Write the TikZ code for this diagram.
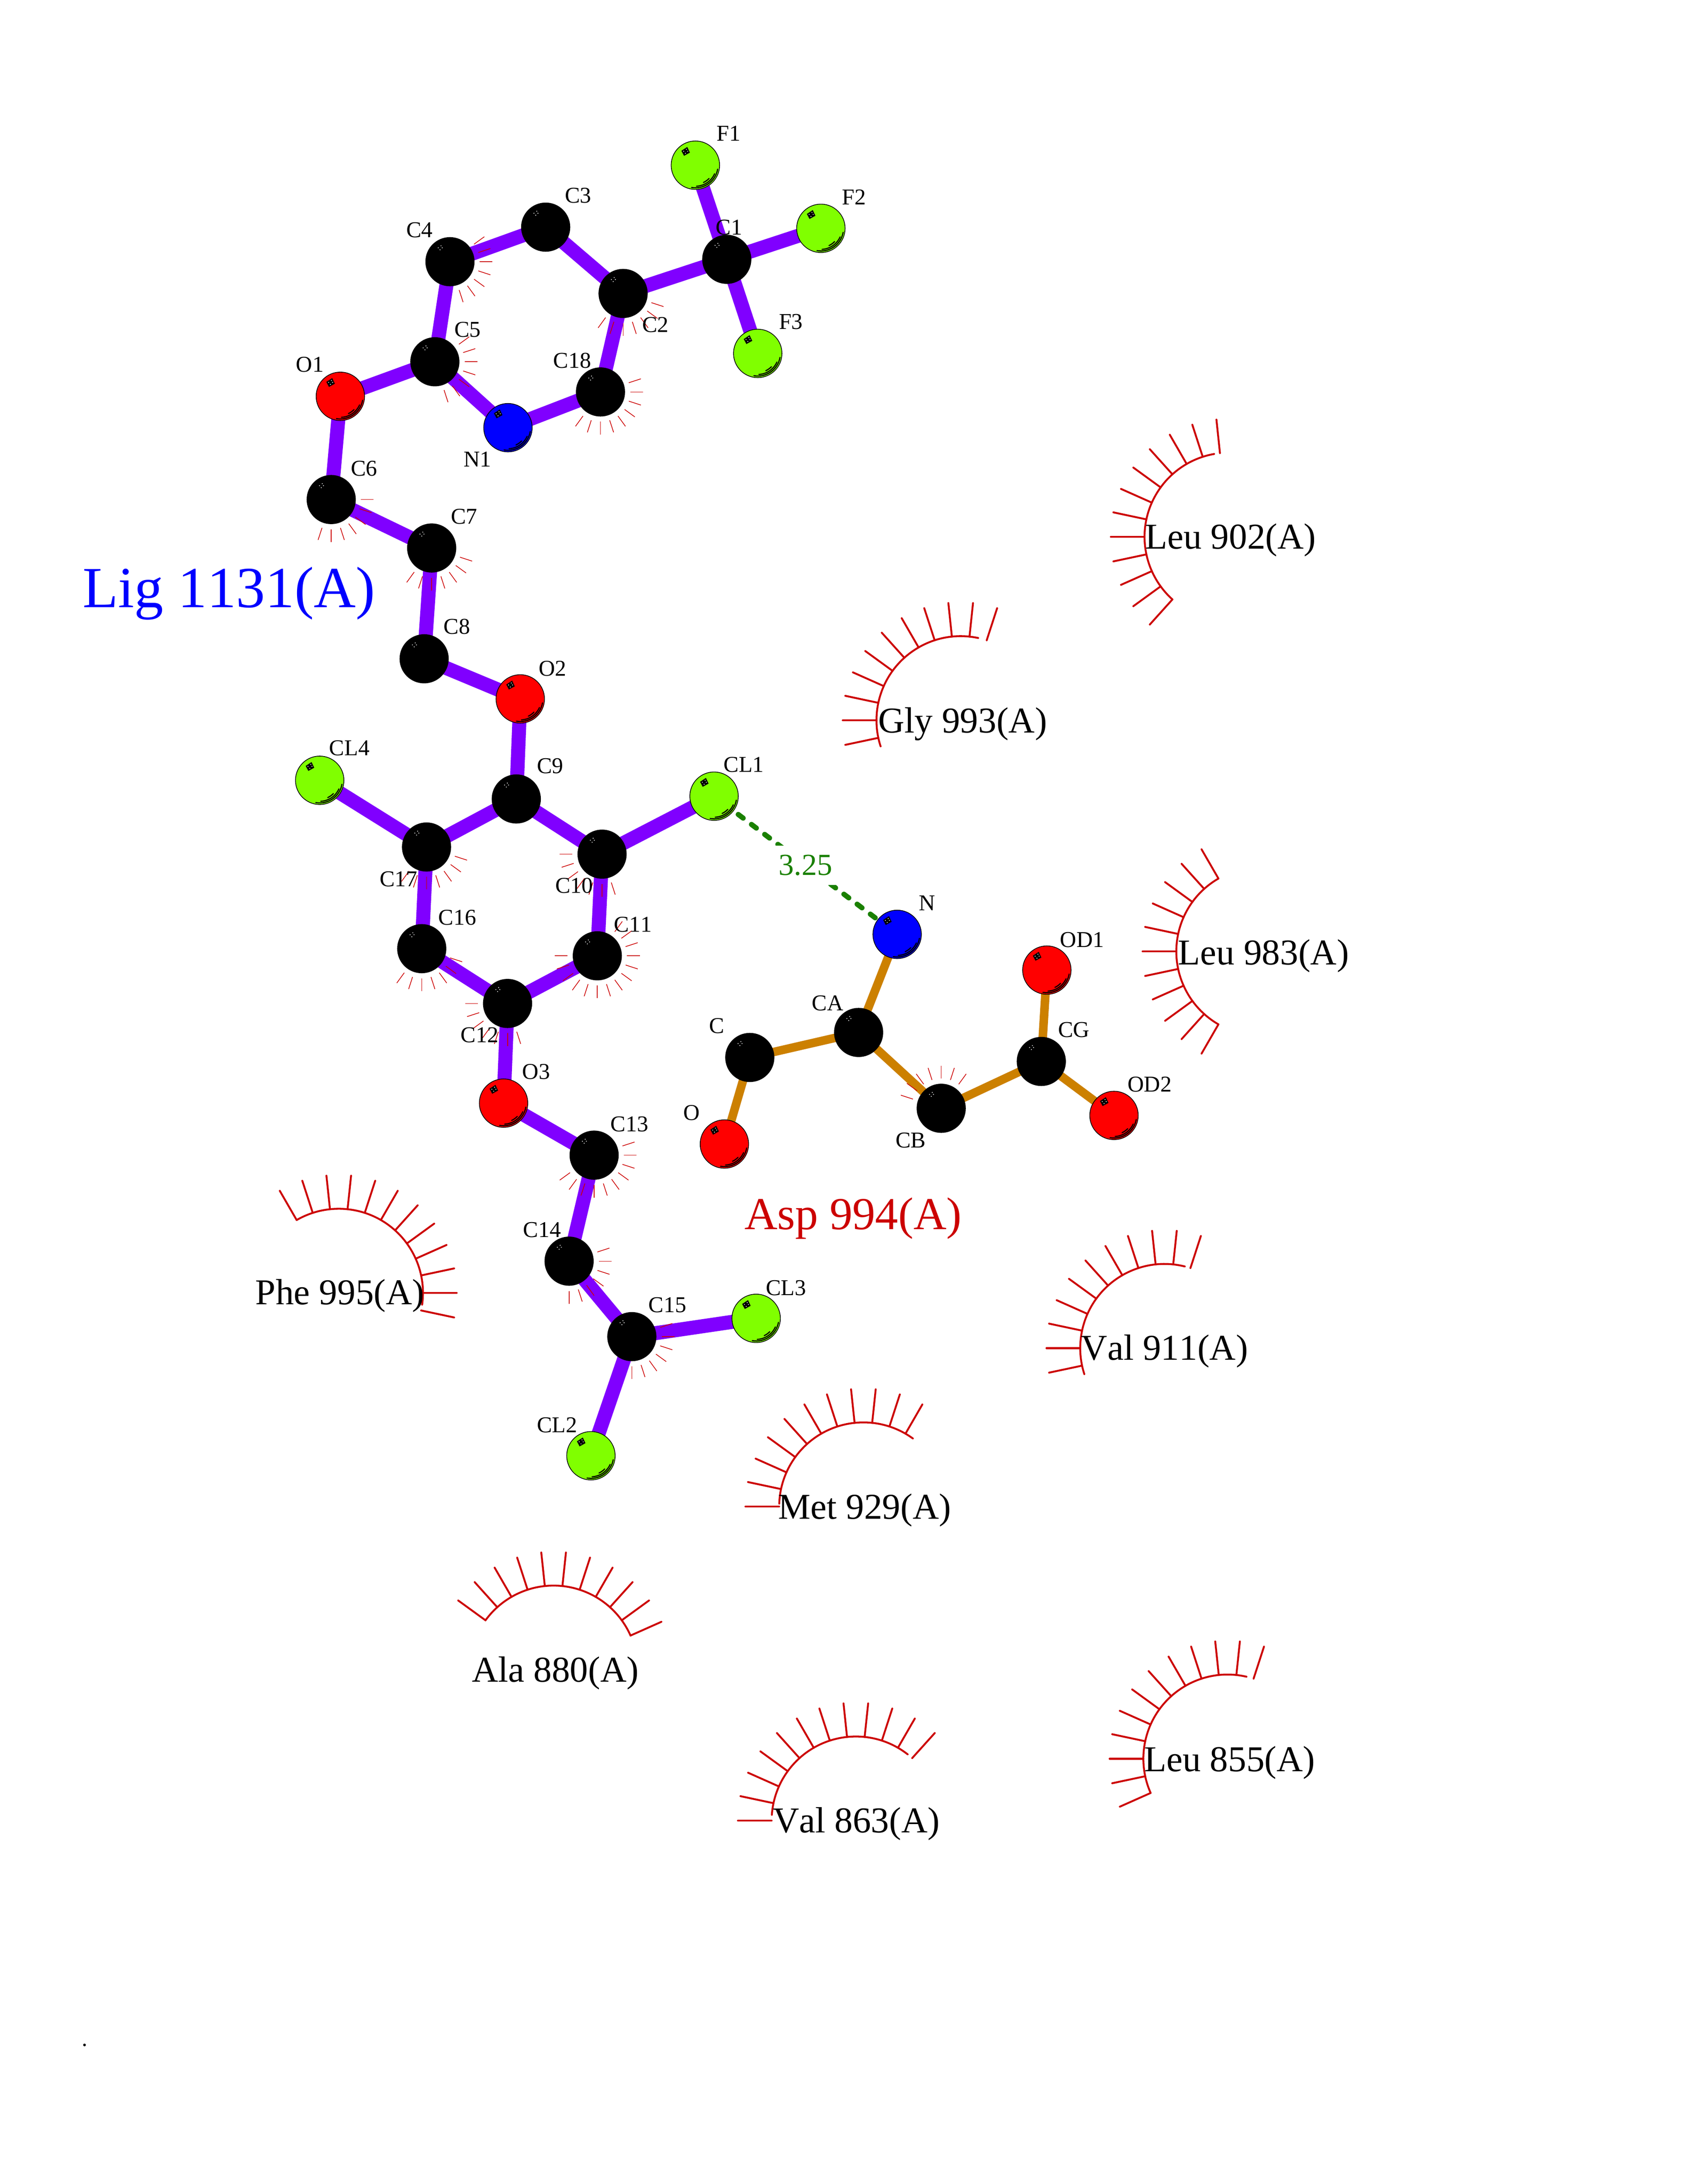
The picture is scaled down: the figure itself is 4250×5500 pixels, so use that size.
\documentclass[tikz,border=0pt]{standalone}
\usepackage{fontspec}
\setmainfont[Kerning=Off]{Liberation Serif}
\usetikzlibrary{backgrounds,calc}
\definecolor{ligbond}{RGB}{128,0,255}
\definecolor{resbond}{RGB}{204,128,0}
\definecolor{hbcol}{RGB}{26,128,0}
\definecolor{rescol}{RGB}{204,0,0}
\definecolor{clcol}{RGB}{128,255,0}
\tikzset{
  atomnode/.style={circle,inner sep=0pt,minimum size=17.57pt,line width=0.25pt,draw=black},
  ligb/.style={line width=5.1pt,draw=ligbond},
  resb/.style={line width=3.1pt,draw=resbond},
  hbline/.style={line width=1.85pt,draw=hbcol,line cap=round,dash pattern=on 2.2pt off 3.8pt,dash phase=1pt},
  tickline/.style={line width=0.25pt,draw=rescol},
  resline/.style={line width=0.68pt,draw=rescol,line cap=round},
  lab/.style={anchor=base west,inner sep=0pt,font=\fontsize{8.2}{10}\selectfont},
  reslab/.style={anchor=base west,inner sep=0pt,font=\fontsize{13.2}{15}\selectfont},
}
\newcommand\hldots{%
  \fill[white] (-29.5,-35) circle[radius=1.3] (-22.5,-40) circle[radius=1.3]
               (-25,-30) circle[radius=1.3] (-19.5,-35) circle[radius=1.3];}
\newcommand\catom[3]{%
  \node[atomnode,fill=black] (#1) at (#2,#3) {};
  \begin{scope}[shift={(#2,#3)}]\hldots\end{scope}}
\newcommand\hatom[4]{%
  \node[atomnode,fill=#4] (#1) at (#2,#3) {};
  \begin{scope}[shift={(#2,#3)}]
    \fill[black] (-35.3,-36.2) -- (-20.5,-46) -- (-13.8,-31.7) -- (-28.6,-23.6) -- cycle;
    \hldots
    \draw[black,line width=0.4pt,line cap=round]
      (10:57) arc[start angle=10,end angle=100,radius=57]
      (24:53) arc[start angle=24,end angle=87,radius=53]
      (44:48) arc[start angle=44,end angle=65,radius=48];
  \end{scope}}
\newcommand\ticks[2]{%
  \foreach \a in {#2} {\draw[tickline] (#1.center) ++(\a:75) -- ++(\a:32);}}
% name, cx, cy, first, second, last spoke (math angle), arc from, arc to
\newcommand\residue[8]{%
  \coordinate (#1) at (#2,#3);
  \foreach \a in {#4,#5,...,#6} {\draw[resline] (#1) ++(-\a:212) -- ++(-\a:85);}
  \draw[resline] (#1) ++(-#7:212) arc[start angle=-#7,end angle=-#8,radius=212];}
\begin{document}
\begin{tikzpicture}[x=0.144pt,y=-0.144pt]
\useasboundingbox (0,0) rectangle (4250,5500);

% ligand atoms
\hatom{F1}{1751}{416}{clcol}
\hatom{F2}{2067}{575}{clcol}
\hatom{F3}{1908}{890}{clcol}
\catom{C1}{1830}{653}
\catom{C2}{1569}{739}
\catom{C3}{1374}{572}
\catom{C4}{1133}{659}
\catom{C5}{1095}{911}
\catom{C18}{1512}{987}
\hatom{N1}{1279}{1077}{blue}
\hatom{O1}{857}{998}{red}
\catom{C6}{834}{1258}
\catom{C7}{1087}{1380}
\catom{C8}{1068}{1659}
\hatom{O2}{1310}{1760}{red}
\catom{C9}{1300}{2012}
\hatom{CL4}{805}{1965}{clcol}
\hatom{CL1}{1798}{2005}{clcol}
\catom{C17}{1074}{2133}
\catom{C10}{1516}{2151}
\catom{C16}{1062}{2389}
\catom{C11}{1504}{2407}
\catom{C12}{1278}{2527}
\hatom{O3}{1268}{2778}{red}
\catom{C13}{1496}{2909}
\catom{C14}{1433}{3176}
\catom{C15}{1591}{3366}
\hatom{CL3}{1904}{3320}{clcol}
\hatom{CL2}{1488}{3666}{clcol}
% residue atoms
\hatom{aN}{2259}{2353}{blue}
\catom{aCA}{2162}{2600}
\catom{aC}{1888}{2663}
\hatom{aO}{1824}{2881}{red}
\catom{aCB}{2370}{2791}
\catom{aCG}{2622}{2673}
\hatom{aOD1}{2636}{2443}{red}
\hatom{aOD2}{2805}{2809}{red}

% bonds
\begin{pgfonlayer}{background}
\foreach \p/\q in {F1/C1,F2/C1,F3/C1,C1/C2,C2/C3,C3/C4,C4/C5,C5/N1,N1/C18,C18/C2,C5/O1,O1/C6,C6/C7,C7/C8,C8/O2,O2/C9,C9/C10,C10/CL1,C9/C17,C17/CL4,C17/C16,C16/C12,C12/C11,C11/C10,C12/O3,O3/C13,C13/C14,C14/C15,C15/CL3,C15/CL2}
  {\draw[ligb] (\p.center) -- (\q.center);}
\foreach \p/\q in {aN/aCA,aCA/aC,aC/aO,aCA/aCB,aCB/aCG,aCG/aOD1,aCG/aOD2}
  {\draw[resb] (\p.center) -- (\q.center);}
\draw[hbline] (CL1.center) -- (aN.center);
\end{pgfonlayer}
\node[fill=white,text=hbcol,inner xsep=2pt,inner ysep=3.4pt,font=\fontsize{11.1}{13}\selectfont] (hblabel) at ($(CL1.center)!0.5!(aN.center)$) {3.25};

% hydrophobic ticks on atoms (screen-clockwise angles)
\ticks{C4}{-36,-18,...,72}
\ticks{C5}{-36,-18,...,72}
\ticks{C18}{-18,0,...,126}
\ticks{C2}{18,36,...,126}
\ticks{C6}{0,18,...,108}
\ticks{C7}{18,36,...,126}
\ticks{C17}{18,36,...,126}
\ticks{C16}{18,36,...,126}
\ticks{C10}{72,90,...,180}
\ticks{C11}{-54,-36,...,180}
\ticks{C12}{72,90,...,180}
\ticks{C13}{-18,0,...,144}
\ticks{C14}{-18,0,...,90}
\ticks{C15}{-18,0,...,90}
\ticks{aCB}{-162,-144,...,-54}

% residues
\residue{leuA}{3094}{1352}{96}{108}{228}{100}{228}
\residue{gly}{2419}{1814}{72}{84}{192}{78}{198}
\residue{leuB}{3174}{2396}{120}{132}{240}{120}{240}
\residue{valA}{2932}{3395}{72}{84}{192}{76}{198}
\residue{phe}{853}{3256}{-12}{0}{120}{-8}{120}
\residue{met}{2174}{3794}{60}{72}{180}{54}{178}
\residue{ala}{1394}{4205}{24}{36}{144}{24}{144}
\residue{valB}{2155}{4585}{48}{60}{180}{52}{176}
\residue{leuC}{3091}{4429}{72}{84}{204}{77}{204}

% atom labels
\foreach \n/\x/\y/\t in {lF1/1803/355/F1,lC3/1421/511/C3,lF2/2119/515/F2,lC4/1022/598/C4,lC1/1801/591/C1,lC5/1143/849/C5,lC2/1616/837/C2,lF3/1960/829/F3,lC18/1392/927/C18,lN1/1166/1175/N1,lC6/882/1198/C6,lC7/1134/1319/C7,lC8/1116/1597/C8,lO1/744/937/O1,lO2/1355/1702/O2,lCL4/828/1902/CL4,lC9/1351/1948/C9,lCL1/1821/1944/CL1,lC17/955/2232/C17,lC16/1103/2329/C16,lC10/1397/2249/C10,lC11/1545/2347/C11,lC12/1159/2625/C12,lO3/1314/2717/O3,lC13/1536/2849/C13,lC14/1316/3116/C14,lC15/1632/3305/C15,lCL3/1927/3262/CL3,lCL2/1351/3607/CL2,lN/2312/2293/N,lCA/2043/2545/CA,lC/1784/2602/C,lO/1719/2821/O,lCB/2254/2890/CB,lCG/2663/2612/CG,lOD1/2668/2385/OD1,lOD2/2838/2749/OD2}
  {\node[lab] (\n) at (\x,\y) {\t};}

% residue labels
\node[reslab] (tLeuA) at (2882,1382) {Leu 902(A)};
\node[reslab] (tGly) at (2210,1845) {Gly 993(A)};
\node[reslab] (tLeuB) at (2965,2429) {Leu 983(A)};
\node[reslab] (tValA) at (2721,3425) {Val 911(A)};
\node[reslab] (tPhe) at (642,3285) {Phe 995(A)};
\node[reslab] (tMet) at (1958,3825) {Met 929(A)};
\node[reslab] (tAla) at (1187,4235) {Ala 880(A)};
\node[reslab] (tValB) at (1945,4615) {Val 863(A)};
\node[reslab] (tLeuC) at (2880,4461) {Leu 855(A)};
\node[anchor=base west,inner sep=0pt,text=blue,font=\fontsize{21.1}{24}\selectfont] (tLig) at (207,1530) {Lig 1131(A)};
\node[anchor=base west,inner sep=0pt,text=rescol,font=\fontsize{16.6}{19}\selectfont] (tAsp) at (1873,3096) {Asp 994(A)};
\node[reslab,font=\fontsize{8.2}{10}\selectfont] (tDot) at (205,5153) {.};
\end{tikzpicture}
\end{document}
